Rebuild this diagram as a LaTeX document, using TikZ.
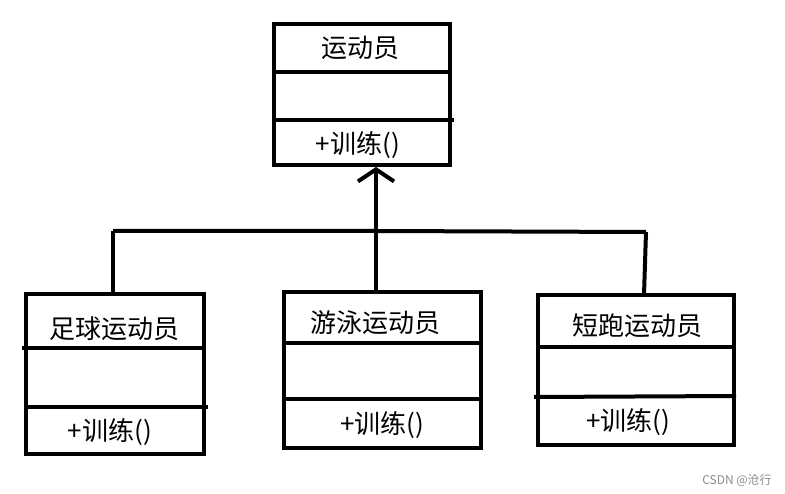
\documentclass[tikz,border=0pt]{standalone}
\usepackage{fontspec}
\newfontfamily\cjk{Noto Sans CJK SC}
\usetikzlibrary{arrows.meta}
\begin{document}
\begin{tikzpicture}[x=1pt,y=-1pt,
  classbox/.style={draw=black,line width=4pt,fill=none,inner sep=0pt},
  ln/.style={draw=black,line width=4pt},
  lbl/.style={font=\cjk\fontsize{26}{30}\selectfont,inner sep=0pt,anchor=center}]
\useasboundingbox[fill=white] (0,0) rectangle (785,494);
% boxes
\node[classbox,minimum width=176pt,minimum height=141pt] (top) at (362,94.5) {};
\node[classbox,minimum width=178pt,minimum height=160pt] (left) at (115,374) {};
\node[classbox,minimum width=197pt,minimum height=156pt] (mid) at (382.5,370) {};
\node[classbox,minimum width=196pt,minimum height=150pt] (right) at (636,370) {};
% dividers
\draw[ln] (top.west |- 0,72) -- (top.east |- 0,72);
\draw[ln] (top.west |- 0,120) -- ([xshift=2pt]top.east |- 0,120);
\draw[ln] ([xshift=-2pt]left.west |- 0,348) -- (left.east |- 0,348);
\draw[ln] (left.west |- 0,407) -- ([xshift=2pt]left.east |- 0,407);
\draw[ln] (mid.west |- 0,343) -- (mid.east |- 0,343);
\draw[ln] (mid.west |- 0,399) -- (mid.east |- 0,399);
\draw[ln] ([xshift=-2pt]right.west |- 0,397) -- (right.east |- 0,396);
\draw[ln] (right.west |- 0,347) -- (right.east |- 0,347);
% labels
\node[lbl] (t1) at (360,48) {运动员};
\node[lbl] (t2) at (358,145) {+训练()};
\node[lbl] (l1) at (114,329) {足球运动员};
\node[lbl] (l2) at (110,432) {+训练()};
\node[lbl] (m1) at (375,323) {游泳运动员};
\node[lbl] (m2) at (382,425) {+训练()};
\node[lbl] (r1) at (637,326) {短跑运动员};
\node[lbl] (r2) at (628,422) {+训练()};
% connectors
\coordinate (jl) at (113,231);
\coordinate (jm) at (376,231);
\coordinate (jr) at (646,232);
\draw[ln] (jl) -- (jm) -- (jr);
\draw[ln] (jl) -- (jl |- left.north);
\draw[ln] (jr) -- (644,295);
\draw[ln,-{Straight Barb[length=12pt,width=36pt]}] (jm |- mid.north) -- (jm |- top.south);
% watermark
\node[font=\cjk\fontsize{12}{14}\selectfont,text=black!45,inner sep=0pt] (wm) at (737,480) {CSDN @沧行};
\end{tikzpicture}
\end{document}
